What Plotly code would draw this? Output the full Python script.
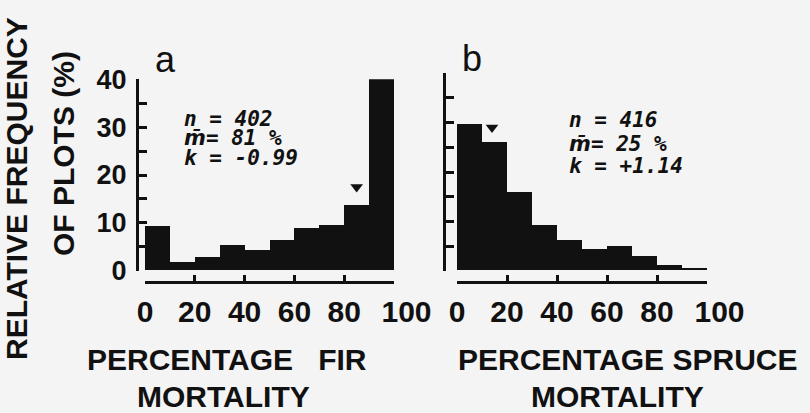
import plotly.graph_objects as go

# ---------------- data ----------------
bin_centers = [5, 15, 25, 35, 45, 55, 65, 75, 85, 95]          # % mortality classes
fir_freq = [9.2, 1.7, 2.9, 5.4, 4.3, 6.4, 8.9, 9.5, 13.7, 40.0]  # relative frequency (%)
spruce_freq = [29.7, 26.1, 15.8, 9.3, 6.2, 4.3, 4.9, 3.0, 1.0, 0.5]

x_tick_vals = [0, 20, 40, 60, 80, 100]
x_tick_text = ["0", "20", "40", "60", "80", "\u00a0\u00a0\u00a0100"]
y_tick_vals = [0, 5, 10, 15, 20, 25, 30, 35, 40]
y_tick_text = ["0", "", "10", "", "20", "", "30", "", "40"]

fir_stats = ["n = 402", "m\u0304= 81 %", "k = -0.99"]
spruce_stats = ["n = 416", "m\u0304= 25 %", "k = +1.14"]
fir_marker = (85, 17.5)      # arrow position (pct, freq)
spruce_marker = (14, 29.0)

W, H = 810, 413
INK = "#111111"
BG = "#f4f4f4"
SANS = "Liberation Sans, Arial, sans-serif"
MONO = "DejaVu Sans Mono, monospace"


def px(x):
    return x / W


def py(y):
    return 1 - y / H


fig = go.Figure()

fig.add_trace(go.Bar(x=bin_centers, y=fir_freq, width=10, marker=dict(color=INK, line=dict(width=0)),
                     xaxis="x", yaxis="y", hoverinfo="skip"))
fig.add_trace(go.Bar(x=bin_centers, y=spruce_freq, width=10, marker=dict(color=INK, line=dict(width=0)),
                     xaxis="x2", yaxis="y2", hoverinfo="skip"))

fig.add_trace(go.Scatter(x=[fir_marker[0]], y=[fir_marker[1]], mode="markers",
                         marker=dict(symbol="triangle-down", size=11, color=INK),
                         xaxis="x", yaxis="y", hoverinfo="skip"))
fig.add_trace(go.Scatter(x=[spruce_marker[0]], y=[spruce_marker[1]], mode="markers",
                         marker=dict(symbol="triangle-down", size=11, color=INK),
                         xaxis="x2", yaxis="y2", hoverinfo="skip"))

xcommon = dict(range=[0, 100], anchor="free", position=py(282), showline=True, linewidth=3,
               linecolor=INK, ticks="inside", ticklen=6, tickwidth=3, tickcolor=INK,
               tickvals=x_tick_vals, ticktext=x_tick_text, showgrid=False, zeroline=False,
               tickfont=dict(family=SANS, size=30, color=INK, weight="bold"), fixedrange=True,
               ticklabelstandoff=2, tickangle=0, automargin=False)
ycommon = dict(range=[0, 40], anchor="free", showline=True, linewidth=3, linecolor=INK,
               ticks="inside", ticklen=8, tickwidth=3, tickcolor=INK,
               tickvals=y_tick_vals, ticktext=y_tick_text, showgrid=False, zeroline=False,
               tickfont=dict(family=SANS, size=27, color=INK, weight="bold"), fixedrange=True,
               ticklabelstandoff=4, tickangle=0, automargin=False)

fig.update_layout(
    width=W, height=H, margin=dict(l=0, r=0, t=0, b=0, pad=0, autoexpand=False),
    paper_bgcolor=BG, plot_bgcolor="rgba(0,0,0,0)", showlegend=False, bargap=0,
    xaxis=dict(domain=[px(145), px(394)], **xcommon),
    xaxis2=dict(domain=[px(457), px(707)], **xcommon),
    yaxis=dict(domain=[py(270.7), py(79.3)], position=px(137), **ycommon),
    yaxis2=dict(domain=[py(270.7), py(73.3)], position=px(444), showticklabels=False, **ycommon),
)

ann = []
title_font = dict(family=SANS, size=30, color=INK, weight="bold")
# y title
ann.append(dict(text="RELATIVE FREQUENCY", x=px(16), y=py(189), xref="paper", yref="paper",
                textangle=-90, showarrow=False, font=title_font, xanchor="center", yanchor="middle"))
ann.append(dict(text="OF PLOTS (%)", x=px(63), y=py(154), xref="paper", yref="paper",
                textangle=-90, showarrow=False, font=title_font, xanchor="center", yanchor="middle"))
# x titles
ann.append(dict(text="PERCENTAGE\u00a0\u00a0 FIR", x=px(227), y=py(359), xref="paper", yref="paper",
                showarrow=False, font=title_font, xanchor="center", yanchor="middle"))
ann.append(dict(text="MORTALITY", x=px(223), y=py(396), xref="paper", yref="paper",
                showarrow=False, font=title_font, xanchor="center", yanchor="middle"))
ann.append(dict(text="PERCENTAGE SPRUCE", x=px(628), y=py(359), xref="paper", yref="paper",
                showarrow=False, font=title_font, xanchor="center", yanchor="middle"))
ann.append(dict(text="MORTALITY", x=px(617), y=py(396), xref="paper", yref="paper",
                showarrow=False, font=title_font, xanchor="center", yanchor="middle"))
# panel letters
letter_font = dict(family=SANS, size=36, color=INK)
ann.append(dict(text="a", x=px(165), y=py(60), xref="paper", yref="paper", showarrow=False,
                font=letter_font, xanchor="center", yanchor="middle"))
ann.append(dict(text="b", x=px(472), y=py(58), xref="paper", yref="paper", showarrow=False,
                font=letter_font, xanchor="center", yanchor="middle"))
# stats
stat_font = dict(family=MONO, size=21, color=INK, style="italic", weight="bold")


def stat_html(txt):
    # render the barred m with a proportional font so the macron combines
    return txt.replace("m\u0304", "<span style='font-family:DejaVu Sans'>m\u0304</span>")


for txt, yv in zip(fir_stats, [31.7, 27.7, 23.5]):
    ann.append(dict(text=stat_html(txt), x=15, y=yv, xref="x", yref="y", showarrow=False,
                    font=stat_font, xanchor="left", yanchor="middle"))
for txt, yv in zip(spruce_stats, [30.6, 25.7, 21.2]):
    ann.append(dict(text=stat_html(txt), x=44, y=yv, xref="x2", yref="y2", showarrow=False,
                    font=stat_font, xanchor="left", yanchor="middle"))

fig.update_layout(annotations=ann)

fig.write_html(
    "out.html",
    config={"displayModeBar": False},
    post_script="document.body.style.margin='0';document.body.style.overflow='hidden';",
)
